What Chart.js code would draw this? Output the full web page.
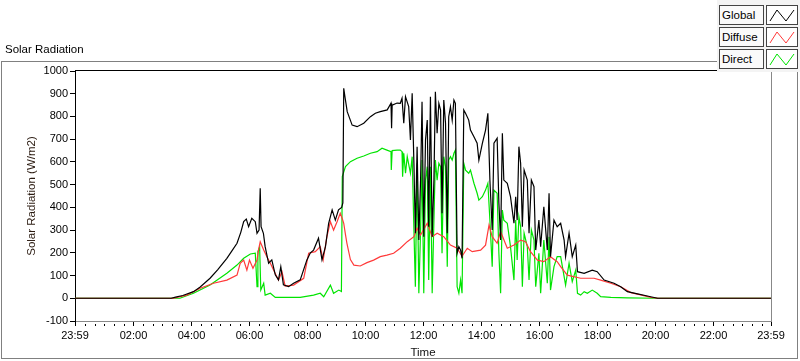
<!DOCTYPE html>
<html>
<head>
<meta charset="utf-8">
<script src="https://cdn.jsdelivr.net/npm/chart.js@4.4.1/dist/chart.umd.min.js"></script>
<style>
body { margin: 0; background: #fff; font-family: "Liberation Sans", Arial, sans-serif; }
#wrap { position: relative; width: 800px; height: 361px; overflow: hidden; }
#myChart { position: absolute; left: 0; top: 0; }
#frame { position: absolute; left: 1px; top: 61px; width: 795px; height: 296px; border: 1px solid #808080; }
#title { position: absolute; left: 5px; top: 43px; font-size: 11.5px; color: #000; }
#legend { position: absolute; left: 717px; top: 0; width: 83px; height: 72px; background: #f4f4f4; }
.lbl { position: absolute; left: 2px; height: 18px; border: 1px solid #444; background: #fafafa;
       font-size: 11.5px; line-height: 18px; padding-left: 2px; box-sizing: content-box; width: 41px; }
.ico { position: absolute; left: 49px; width: 30px; height: 18px; border: 1px solid #444; background: #fff; }
</style>
</head>
<body>
<div id="wrap">
  <canvas id="myChart" width="800" height="361"></canvas>
  <div id="frame"></div>
  <div id="title">Solar Radiation</div>
  <div id="legend"></div>
</div>
<script>
// time in hours (0 = midnight), values in W/m2
let globalHours = [-0.0167, 3.3, 3.45, 3.7, 4.07, 4.3, 4.64, 4.9, 5.22, 5.4, 5.57, 5.7, 5.8, 5.89, 5.97, 6.08, 6.2, 6.26, 6.33, 6.37, 6.4, 6.48, 6.54, 6.66, 6.77, 6.89, 7.0, 7.08, 7.17, 7.35, 7.52, 7.75, 7.98, 8.1, 8.21, 8.38, 8.5, 8.62, 8.73, 8.85, 8.96, 9.07, 9.18, 9.22, 9.25, 9.3, 9.37, 9.54, 9.71, 9.94, 10.17, 10.34, 10.51, 10.75, 10.88, 10.9, 10.92, 11.09, 11.2, 11.26, 11.32, 11.38, 11.49, 11.55, 11.61, 11.67, 11.72, 11.78, 11.84, 11.9, 11.95, 12.01, 12.07, 12.13, 12.18, 12.24, 12.3, 12.36, 12.41, 12.47, 12.53, 12.59, 12.64, 12.7, 12.76, 12.82, 12.87, 12.93, 12.99, 13.05, 13.1, 13.16, 13.22, 13.28, 13.33, 13.39, 13.45, 13.56, 13.62, 13.74, 13.85, 13.91, 14.03, 14.14, 14.22, 14.29, 14.37, 14.43, 14.54, 14.6, 14.66, 14.72, 14.77, 14.89, 15.0, 15.12, 15.18, 15.23, 15.29, 15.35, 15.41, 15.47, 15.58, 15.64, 15.72, 15.81, 15.87, 15.98, 16.04, 16.15, 16.27, 16.33, 16.38, 16.5, 16.61, 16.73, 16.85, 16.9, 17.02, 17.13, 17.25, 17.31, 17.54, 17.82, 17.99, 18.23, 18.57, 18.8, 19.03, 19.38, 19.72, 20.07, 23.983]
let globalWm2 = [0, 0, 5, 12, 29, 50, 88, 125, 176, 210, 242, 290, 337, 348, 315, 352, 337, 286, 300, 484, 315, 286, 227, 154, 169, 103, 81, 139, 59, 51, 66, 81, 169, 200, 212, 264, 169, 227, 330, 389, 344, 389, 400, 420, 924, 880, 821, 762, 755, 770, 799, 814, 821, 829, 858, 748, 850, 859, 858, 880, 770, 887, 843, 696, 902, 594, 286, 667, 256, 520, 865, 271, 696, 784, 315, 887, 271, 520, 909, 726, 858, 828, 374, 872, 770, 286, 799, 843, 784, 872, 858, 198, 227, 212, 176, 828, 814, 784, 740, 711, 682, 608, 682, 740, 814, 520, 300, 682, 704, 418, 256, 726, 520, 506, 447, 330, 447, 344, 667, 594, 315, 564, 520, 286, 520, 491, 212, 344, 227, 403, 212, 462, 183, 344, 315, 330, 256, 183, 286, 183, 234, 117, 110, 124, 117, 80, 66, 51, 29, 19, 10, 0, 0]

let diffuseHours = [-0.0167, 3.38, 3.84, 4.3, 4.76, 5.22, 5.57, 5.68, 5.8, 5.91, 6.0, 6.12, 6.26, 6.31, 6.37, 6.49, 6.6, 6.72, 6.83, 7.0, 7.12, 7.23, 7.52, 7.87, 8.04, 8.27, 8.44, 8.54, 8.67, 8.79, 8.9, 9.02, 9.13, 9.2, 9.25, 9.31, 9.36, 9.48, 9.6, 9.82, 10.05, 10.28, 10.51, 10.74, 10.97, 11.2, 11.44, 11.67, 11.78, 11.9, 12.13, 12.3, 12.47, 12.7, 12.93, 13.16, 13.33, 13.51, 13.68, 13.97, 14.14, 14.26, 14.37, 14.54, 14.66, 14.89, 15.12, 15.35, 15.52, 15.69, 15.93, 16.15, 16.38, 16.61, 16.73, 16.96, 17.42, 17.88, 18.11, 18.46, 18.8, 19.15, 19.49, 19.84, 20.1, 23.983]
let diffuseWm2 = [0, 0, 14, 44, 66, 80, 102, 154, 168, 124, 168, 132, 168, 212, 249, 212, 183, 154, 124, 80, 117, 54, 58, 88, 198, 205, 227, 168, 271, 337, 300, 337, 374, 350, 330, 280, 242, 170, 146, 142, 157, 168, 183, 190, 198, 220, 249, 271, 308, 278, 330, 271, 286, 271, 234, 220, 185, 220, 205, 212, 234, 322, 271, 242, 293, 220, 234, 256, 249, 205, 168, 161, 183, 161, 139, 102, 88, 88, 80, 66, 51, 25, 15, 4, 0, 0]

let directHours = [-0.0167, 3.6, 4.07, 4.64, 5.22, 5.57, 5.8, 6.03, 6.2, 6.26, 6.29, 6.35, 6.39, 6.49, 6.54, 6.72, 6.89, 7.29, 7.75, 8.21, 8.44, 8.56, 8.79, 8.9, 9.08, 9.17, 9.2, 9.31, 9.48, 9.71, 9.94, 10.17, 10.4, 10.57, 10.74, 10.88, 10.89, 10.92, 11.09, 11.2, 11.26, 11.28, 11.32, 11.38, 11.44, 11.55, 11.61, 11.67, 11.72, 11.78, 11.84, 11.9, 11.95, 12.01, 12.07, 12.13, 12.18, 12.24, 12.3, 12.36, 12.41, 12.47, 12.53, 12.59, 12.64, 12.7, 12.76, 12.82, 12.87, 12.93, 12.99, 13.05, 13.1, 13.16, 13.22, 13.28, 13.33, 13.39, 13.45, 13.56, 13.62, 13.74, 13.85, 13.91, 14.03, 14.14, 14.22, 14.29, 14.37, 14.43, 14.54, 14.6, 14.66, 14.72, 14.77, 14.89, 15.0, 15.12, 15.18, 15.23, 15.29, 15.35, 15.41, 15.47, 15.58, 15.64, 15.72, 15.81, 15.87, 15.98, 16.04, 16.15, 16.27, 16.33, 16.38, 16.5, 16.61, 16.73, 16.85, 16.9, 17.02, 17.13, 17.25, 17.31, 17.42, 17.54, 17.65, 17.82, 17.99, 18.11, 18.46, 19.03, 20.0, 23.983]
let directWm2 = [0, 0, 22, 58, 110, 146, 176, 195, 198, 51, 205, 225, 36, 66, 14, 22, 4, 4, 4, 14, 22, 7, 58, 22, 36, 30, 535, 579, 601, 616, 626, 638, 645, 660, 652, 645, 564, 650, 652, 652, 645, 535, 638, 550, 623, 550, 623, 300, 51, 594, 22, 300, 608, 22, 520, 579, 80, 579, 22, 344, 608, 520, 594, 579, 198, 623, 579, 139, 608, 623, 608, 638, 652, 51, 22, 80, 22, 594, 564, 550, 564, 506, 462, 432, 447, 476, 506, 344, 139, 476, 462, 198, 22, 388, 344, 330, 227, 80, 344, 168, 359, 315, 51, 286, 227, 80, 300, 256, 51, 198, 22, 256, 66, 271, 36, 139, 183, 183, 95, 58, 154, 73, 124, 22, 14, 29, 22, 36, 22, 7, 4, 2, 0, 0]

let seriesNames = ['Global', 'Diffuse', 'Direct']
let seriesColors = ['#000000', '#ff3a3a', '#00e400']
let xTickHours = [2, 4, 6, 8, 10, 12, 14, 16, 18, 20, 22]
let xMin = -1 / 60
let xMax = 24 - 1 / 60

function toPoints(hours, values){
    return hours.map((h, i) => ({ x: h, y: values[i] }))
}

function hhmm(h){
    let m = (Math.round(h * 60) + 1440) % 1440
    return String(Math.floor(m / 60)).padStart(2, '0') + ':' + String(m % 60).padStart(2, '0')
}

// legend boxes (LabVIEW style)
let legend = document.getElementById('legend')
seriesNames.forEach((name, i) => {
    let top = 5 + i * 22
    let lbl = document.createElement('div')
    lbl.className = 'lbl'
    lbl.style.top = top + 'px'
    lbl.textContent = name
    legend.appendChild(lbl)
    let ico = document.createElement('div')
    ico.className = 'ico'
    ico.style.top = top + 'px'
    ico.innerHTML = '<svg width="30" height="18"><polyline points="3,15 10,4 19,15 27,4" fill="none" stroke="' + seriesColors[i] + '" stroke-width="1"/></svg>'
    legend.appendChild(ico)
})

// frame top/right + minor ticks on time axis
let framePlugin = {
    id: 'framePlugin',
    afterDraw(chart){
        let ctx = chart.ctx
        let a = chart.chartArea
        let xs = chart.scales.x
        ctx.save()
        ctx.lineWidth = 1
        ctx.strokeStyle = '#000'
        ctx.beginPath()
        ctx.moveTo(a.left, a.top - 0.5)
        ctx.lineTo(a.right, a.top - 0.5)
        ctx.stroke()
        ctx.strokeStyle = '#888'
        ctx.beginPath()
        ctx.moveTo(a.right + 0.5, a.top)
        ctx.lineTo(a.right + 0.5, a.bottom)
        ctx.stroke()
        ctx.strokeStyle = '#000'
        ctx.beginPath()
        for (let m = 20; m < 1440; m += 20) {
            if (m % 120 === 0) continue
            let px = Math.round(xs.getPixelForValue(m / 60)) + 0.5
            ctx.moveTo(px, a.bottom + 3)
            ctx.lineTo(px, a.bottom + 5)
        }
        ctx.stroke()
        ctx.restore()
    }
}

let tickFont = { family: '"Liberation Sans", Arial, sans-serif', size: 11 }
let titleFont = { family: '"Liberation Sans", Arial, sans-serif', size: 11.5 }

new Chart('myChart', {
    type: 'line',
    data: {
        datasets: [
            { label: seriesNames[0], data: toPoints(globalHours, globalWm2), borderColor: seriesColors[0] },
            { label: seriesNames[1], data: toPoints(diffuseHours, diffuseWm2), borderColor: seriesColors[1] },
            { label: seriesNames[2], data: toPoints(directHours, directWm2), borderColor: seriesColors[2] }
        ]
    },
    options: {
        responsive: false,
        animation: false,
        devicePixelRatio: 1,
        parsing: false,
        elements: {
            line: { borderWidth: 1.2, tension: 0, fill: false },
            point: { radius: 0 }
        },
        layout: { padding: { left: 0, right: 29, top: 71, bottom: 0 } },
        plugins: {
            legend: { display: false },
            title: { display: false },
            tooltip: { enabled: false }
        },
        scales: {
            x: {
                type: 'linear',
                min: xMin,
                max: xMax,
                afterBuildTicks: s => {
                    s.ticks = [xMin].concat(xTickHours, [xMax]).map(v => ({ value: v }))
                },
                afterFit: s => { s.height = 40 },
                ticks: {
                    autoSkip: false,
                    maxRotation: 0,
                    padding: 3,
                    color: '#000',
                    font: tickFont,
                    callback: v => hhmm(v)
                },
                grid: { drawOnChartArea: false, drawTicks: true, tickLength: 5, color: '#000' },
                border: { display: true, color: '#888' },
                title: { display: true, text: 'Time', color: '#111', font: titleFont, padding: { top: 0, bottom: 1 } }
            },
            y: {
                min: -100,
                max: 1000,
                afterFit: s => { s.width = 75 },
                ticks: { stepSize: 100, padding: 2, color: '#000', font: tickFont, callback: v => String(v) },
                grid: { drawOnChartArea: false, drawTicks: true, tickLength: 5, color: '#000' },
                border: { display: true, color: '#000' },
                title: { display: true, text: 'Solar Radiation (W/m2)', color: '#2a1a10', font: titleFont, padding: { top: 25, bottom: 0 } }
            }
        }
    },
    plugins: [framePlugin]
})
</script>
</body>
</html>
